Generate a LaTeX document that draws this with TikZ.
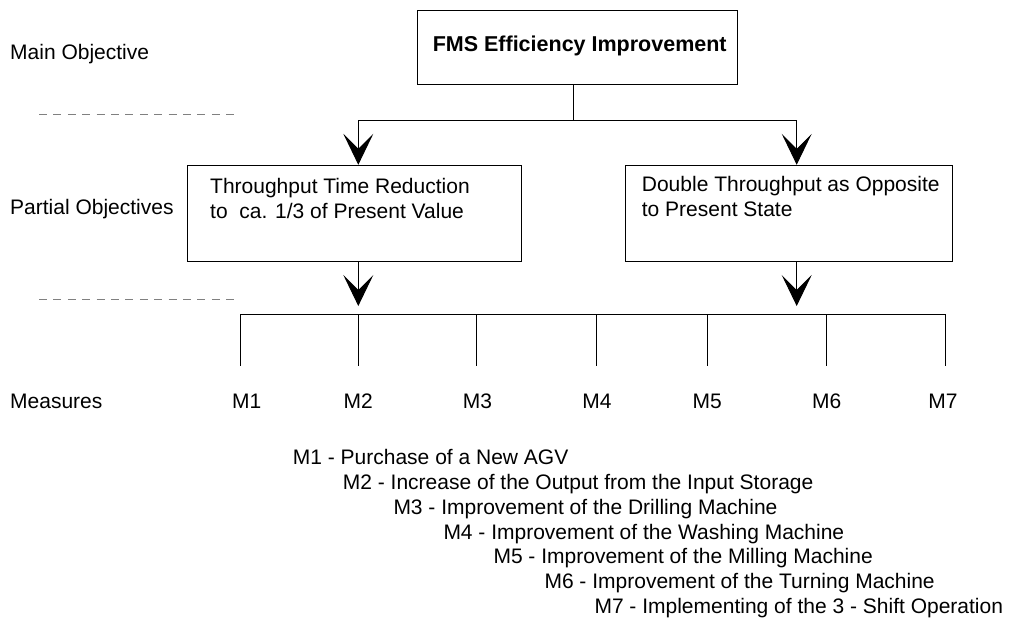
\documentclass[tikz,border=0pt]{standalone}
\usepackage{fontspec}
\setmainfont{Liberation Sans}
\usetikzlibrary{arrows.meta}
\begin{document}
\begin{tikzpicture}[x=1pt,y=-1pt,
  txt/.style={font=\fontsize{21}{25}\selectfont, inner sep=0pt, anchor=base west},
  ctxt/.style={font=\fontsize{21}{25}\selectfont, inner sep=0pt, anchor=base},
  box/.style={draw=black, line width=1pt, inner sep=0pt, rectangle},
  conn/.style={draw=black, line width=1pt},
  arr/.style={conn, -{Stealth[length=31pt, width=30pt, inset=15pt]}},
  sepline/.style={draw=black!50, line width=1pt, dash pattern=on 8pt off 6.4pt}
]
\useasboundingbox (0,0) rectangle (1014,619);

% row labels
\node[txt] (lmain) at (10,59.3) {Main Objective};
\node[txt] (lpart) at (10,214.3) {Partial Objectives};
\node[txt] (lmeas) at (10,408.3) {Measures};

% separators
\coordinate (s1a) at (39,114);  \coordinate (s1b) at (240,114);
\coordinate (s2a) at (39,299);  \coordinate (s2b) at (240,299);
\draw[sepline] (s1a) -- (s1b);
\draw[sepline] (s2a) -- (s2b);

% main objective box
\node[box, minimum width=320pt, minimum height=74pt] (main) at (577.7,47) {};
\node[ctxt, font=\fontsize{21.5}{25}\selectfont\bfseries] (maint) at (579.7,51.7) {FMS Efficiency Improvement};

% partial objective boxes
\node[box, minimum width=334.4pt, minimum height=96.4pt] (left) at (354.5,213.5) {};
\node[txt] (lt1) at (210,193.3) {Throughput Time Reduction};
\node[txt] (lt2) at (210,218.3) {to\ \ ca. 1/3 of Present Value};

\node[box, minimum width=327.3pt, minimum height=96.4pt] (right) at (788.65,213.5) {};
\node[txt] (rt1) at (641.7,191.7) {Double Throughput as Opposite};
\node[txt] (rt2) at (641.7,216.7) {to Present State};

% top connectors
\coordinate (split) at (573.3,120.7);
\coordinate (jl) at (358.3,120.7);
\coordinate (jr) at (796.7,120.7);
\draw[conn] (split |- main.south) -- (split);
\draw[conn] (jl) -- (jr);
\draw[arr] (jl) -- (jl |- left.north);
\draw[arr] (jr) -- (jr |- right.north);

% measure bar
\coordinate (t1) at (240,314);
\coordinate (t2) at (358.3,314);
\coordinate (t3) at (476.7,314);
\coordinate (t4) at (596.7,314);
\coordinate (t5) at (707.3,314);
\coordinate (t6) at (826.7,314);
\coordinate (t7) at (945,314);
\draw[conn] (t1) -- (t7);
\foreach \i in {1,...,7} {
  \draw[conn] (t\i) -- ++(0,52);
}

% lower arrows
\coordinate (al) at (358.3,306);
\coordinate (ar) at (796.7,306);
\draw[arr] (al |- left.south) -- (al);
\draw[arr] (ar |- right.south) -- (ar);

% measure labels
\node[ctxt] (m1) at (246.7,408.3) {M1};
\node[ctxt] (m2) at (358.3,408.3) {M2};
\node[ctxt] (m3) at (477.5,408.3) {M3};
\node[ctxt] (m4) at (597,408.3) {M4};
\node[ctxt] (m5) at (707.3,408.3) {M5};
\node[ctxt] (m6) at (826.7,408.3) {M6};
\node[ctxt] (m7) at (943,408.3) {M7};

% legend
\node[txt] (d1) at (292.7,464.7) {M1 - Purchase of a New AGV};
\node[txt] (d2) at (342.7,489.5) {M2 - Increase of the Output from the Input Storage};
\node[txt] (d3) at (393.3,514.3) {M3 - Improvement of the Drilling Machine};
\node[txt] (d4) at (443.3,539.1) {M4 - Improvement of the Washing Machine};
\node[txt] (d5) at (493.3,563.9) {M5 - Improvement of the Milling Machine};
\node[txt] (d6) at (544.3,588.7) {M6 - Improvement of the Turning Machine};
\node[txt] (d7) at (594.3,613.5) {M7 - Implementing of the 3 - Shift Operation};
\end{tikzpicture}
\end{document}
